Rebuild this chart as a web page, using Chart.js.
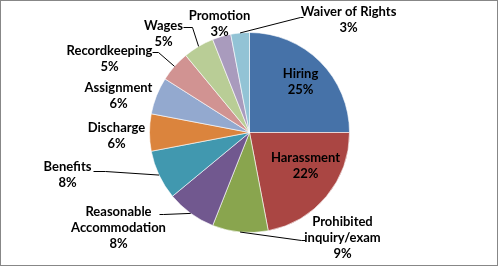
<!DOCTYPE html>
<html>
<head>
<meta charset="utf-8">
<script src="https://cdn.jsdelivr.net/npm/chart.js@4.4.1/dist/chart.umd.min.js"></script>
<style>
  html, body { margin: 0; padding: 0; background: #fff; }
  #frame { width: 498px; height: 266px; box-sizing: border-box; border: 1px solid #878787; position: relative; }
  canvas { display: block; }
</style>
</head>
<body>
<div id="frame"><canvas id="c" width="496" height="264"></canvas></div>
<script>
// ---- data ----
const categories = [
  ['Hiring'], ['Harassment'], ['Prohibited', 'inquiry/exam'], ['Reasonable', 'Accommodation'],
  ['Benefits'], ['Discharge'], ['Assignment'], ['Recordkeeping'], ['Wages'], ['Promotion'], ['Waiver of Rights']
];
const shares = [25, 22, 9, 8, 8, 6, 6, 5, 5, 3, 3];

// ---- styles ----
const sliceColors = ['#4672A8', '#AA4643', '#89A54E', '#71588F', '#4198AF', '#DB843D',
                     '#93A9CF', '#D19392', '#B9CD96', '#A99BBD', '#92C3D5'];

// ---- label layout (in units of the pie radius, relative to pie centre) ----
// pos: label block centre; elbow/tail: leader line bend point and end at label (null = no leader)
const labelLayout = [
  { pos: [0.51, -0.51] },
  { pos: [0.56, 0.33] },
  { pos: [0.93, 1.05], elbow: [0.52, 1.08], tail: [0.56, 1.08] },
  { pos: [-1.31, 0.95], elbow: [-0.86, 0.82], tail: [-0.90, 0.82] },
  { pos: [-1.82, 0.425], elbow: [-1.44, 0.39], tail: [-1.56, 0.39] },
  { pos: [-1.33, 0.03] },
  { pos: [-1.31, -0.37] },
  { pos: [-1.40, -0.735], elbow: [-0.91, -0.80], tail: [-0.97, -0.80] },
  { pos: [-0.86, -0.99], elbow: [-0.57, -1.05], tail: [-0.66, -1.05] },
  { pos: [-0.30, -1.09] },
  { pos: [0.99, -1.13], elbow: [0.51, -1.15], tail: [0.54, -1.15] }
];

const labelPlugin = {
  id: 'pieLabels',
  afterDatasetsDraw(chart) {
    const ctx = chart.ctx;
    const meta = chart.getDatasetMeta(0);
    const data = chart.data.datasets[0].data;
    const total = data.reduce((a, b) => a + b, 0);
    ctx.save();
    ctx.font = 'bold 13px Lato';
    ctx.fillStyle = '#000';
    ctx.textAlign = 'center';
    ctx.textBaseline = 'middle';
    meta.data.forEach((arc, i) => {
      const p = arc.getProps(['x', 'y', 'startAngle', 'endAngle', 'outerRadius'], true);
      const R = p.outerRadius;
      const mid = (p.startAngle + p.endAngle) / 2;
      const L = labelLayout[i];
      if (L.elbow) {
        ctx.beginPath();
        ctx.strokeStyle = '#000';
        ctx.lineWidth = 1;
        ctx.moveTo(p.x + R * Math.cos(mid), p.y + R * Math.sin(mid));
        ctx.lineTo(p.x + R * L.elbow[0], p.y + R * L.elbow[1]);
        ctx.lineTo(p.x + R * L.tail[0], p.y + R * L.tail[1]);
        ctx.stroke();
      }
      const lines = chart.data.labels[i].concat([Math.round(data[i] / total * 100) + '%']);
      const lh = 16;
      const cx = p.x + R * L.pos[0];
      const cy = p.y + R * L.pos[1];
      const y0 = cy - (lines.length - 1) * lh / 2;
      lines.forEach((t, k) => ctx.fillText(t, cx, y0 + k * lh));
    });
    ctx.restore();
  }
};

new Chart(document.getElementById('c'), {
  type: 'pie',
  data: {
    labels: categories,
    datasets: [{
      data: shares,
      backgroundColor: sliceColors,
      borderColor: 'rgba(255,255,255,0.6)',
      borderWidth: 1
    }]
  },
  options: {
    responsive: false,
    animation: false,
    layout: { padding: { left: 148, right: 147, top: 31, bottom: 32 } },
    plugins: { legend: { display: false }, tooltip: { enabled: false } }
  },
  plugins: [labelPlugin]
});
</script>
</body>
</html>
